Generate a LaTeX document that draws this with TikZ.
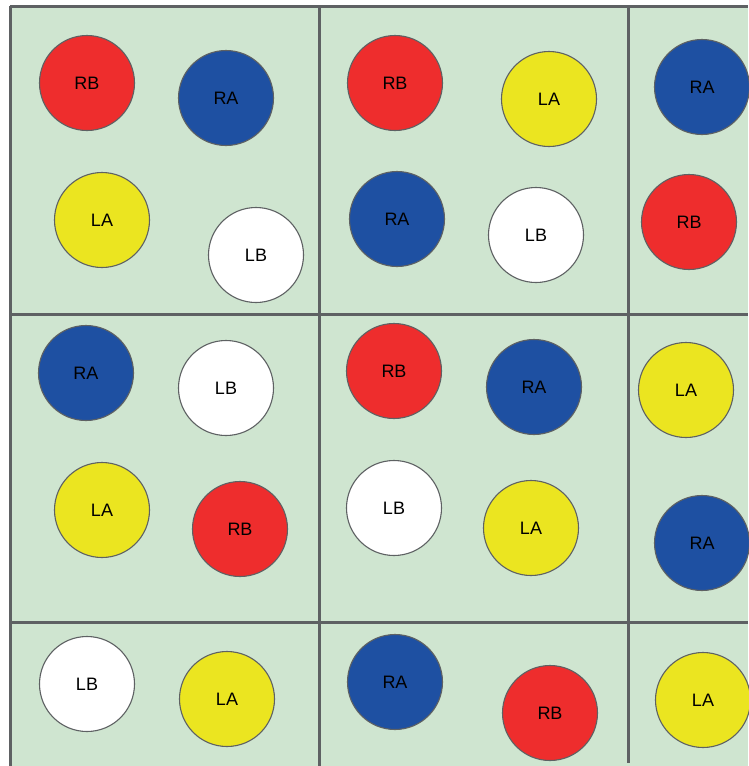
\documentclass[tikz,border=0pt]{standalone}
\usepackage{fontspec}
\setmainfont{Liberation Sans}
\usetikzlibrary{positioning}

\definecolor{cellgreen}{HTML}{CFE5D0}
\definecolor{gridgray}{HTML}{5E6163}
\definecolor{tokred}{HTML}{EE2D2D}
\definecolor{tokblue}{HTML}{1E50A2}
\definecolor{tokyellow}{HTML}{EBE520}

\begin{document}
\begin{tikzpicture}[
  x=1pt, y=-1pt,
  token/.style={circle, draw=gridgray, line width=1.1pt, minimum size=95pt, inner sep=0pt, font=\fontsize{18}{18}\selectfont},
  ra/.style={token, fill=tokblue},
  rb/.style={token, fill=tokred},
  la/.style={token, fill=tokyellow},
  lb/.style={token, fill=white},
  grid/.style={gridgray, line width=3pt}
]
\useasboundingbox (0,0) rectangle (748,766);

% Cells
\fill[cellgreen] (10,6) rectangle (748,766);
\draw[grid] (10,6) -- (10,766);
\draw[grid] (319,6) -- (319,766);
\draw[grid] (628,6) -- (628,763);
\draw[grid] (10,6) -- (748,6);
\draw[grid] (10,314) -- (748,314);
\draw[grid] (10,622) -- (748,622);

% Row 1
\node[rb] (rb11) at (87,83) {RB};
\node[ra] (ra11) at (226,98) {RA};
\node[la] (la11) at (102,220) {LA};
\node[lb] (lb11) at (256,255) {LB};

\node[rb] (rb12) at (395,83) {RB};
\node[la] (la12) at (549,99) {LA};
\node[ra] (ra12) at (397,219) {RA};
\node[lb] (lb12) at (536,235) {LB};

\node[ra] (ra13) at (702,87) {RA};
\node[rb] (rb13) at (689,222) {RB};

% Row 2
\node[ra] (ra21) at (86,373) {RA};
\node[lb] (lb21) at (226,388) {LB};
\node[la] (la21) at (102,510) {LA};
\node[rb] (rb21) at (240,529) {RB};

\node[rb] (rb22) at (394,371) {RB};
\node[ra] (ra22) at (534,387) {RA};
\node[lb] (lb22) at (394,508) {LB};
\node[la] (la22) at (531,528) {LA};

\node[la] (la23) at (686,390) {LA};
\node[ra] (ra23) at (702,543) {RA};

% Row 3
\node[lb] (lb31) at (87,684) {LB};
\node[la] (la31) at (227,699) {LA};

\node[ra] (ra32) at (395,682) {RA};
\node[rb] (rb32) at (550,713) {RB};

\node[la] (la33) at (703,700) {LA};

\end{tikzpicture}
\end{document}
